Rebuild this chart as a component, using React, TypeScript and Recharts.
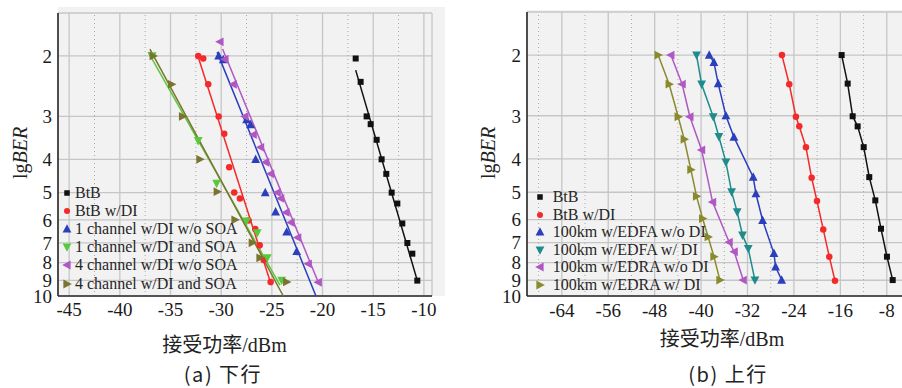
import React from 'react';
import { ScatterChart, Scatter, XAxis, YAxis, CartesianGrid, ReferenceLine } from 'recharts';

type Pt = { p: number; ber: number };
const mk = (arr: number[][]): Pt[] => arr.map(([p, ber]) => ({ p, ber }));

// ---------- shared ----------
const yTicks = [2, 3, 4, 5, 6, 7, 8, 9, 10];

// ---------- panel (a) 下行 ----------
const xTicksA = [-45, -40, -35, -30, -25, -20, -15, -10];
const xMinorA = [-42.5, -37.5, -32.5, -27.5, -22.5, -17.5, -12.5];

const btbA = [[-16.73, 2.035], [-16.24, 2.38], [-15.65, 3.0], [-15.25, 3.16], [-14.66, 3.51], [-14.17, 4.0], [-13.71, 4.41], [-13.18, 5.0], [-12.62, 5.38], [-12.13, 6.15], [-11.63, 7.01], [-11.14, 7.53], [-10.65, 9.02]];
const btbFitA = [[-16.73, 2.2], [-10.65, 9.02]];
const btbDiA = [[-32.27, 2.0], [-31.77, 2.035], [-31.28, 2.42], [-30.25, 3.0], [-29.7, 3.37], [-29.21, 4.22], [-28.71, 5.0], [-28.15, 5.2], [-27.3, 6.03], [-26.64, 6.38], [-26.2, 7.12], [-25.8, 7.85], [-25.12, 9.1]];
const btbDiFitA = [[-32.3, 2.0], [-25.05, 9.3]];
const ch1NoSoa = [[-30.25, 2.0], [-29.8, 2.05], [-27.49, 3.065], [-27.1, 3.17], [-26.6, 4.0], [-25.65, 5.0], [-24.63, 5.69], [-23.54, 6.51], [-22.55, 7.42]];
const ch1NoSoaFit = [[-30.4, 1.95], [-20.65, 10]];
const ch1Soa = [[-36.8, 2.0], [-32.27, 3.53], [-30.45, 4.7], [-27.49, 6.05], [-26.44, 6.55], [-25.45, 7.74], [-24.03, 9.0]];
const ch1SoaFit = [[-37.2, 1.95], [-24.2, 9.3]];
const ch4NoSoa = [[-30.12, 1.82], [-29.63, 2.045], [-28.81, 2.42], [-27.66, 3.0], [-26.84, 3.39], [-26.11, 3.69], [-25.61, 4.08], [-25.12, 4.41], [-24.47, 5.0], [-24.13, 5.2], [-23.61, 5.71], [-23.11, 6.11], [-22.45, 6.76], [-21.41, 8.06], [-20.42, 9.12]];
const ch4NoSoaFit = [[-29.86, 1.91], [-20.42, 9.12]];
const ch4Soa = [[-36.71, 2.0], [-34.89, 2.42], [-33.81, 3.0], [-32.1, 4.0], [-30.39, 4.97], [-28.64, 6.0], [-26.93, 7.0], [-26.17, 7.74], [-23.54, 9.1]];
const ch4SoaFit = [[-37.03, 1.91], [-23.87, 10]];

// ---------- panel (b) 上行 ----------
const xTicksB = [-64, -56, -48, -40, -32, -24, -16, -8];
const xMinorB = [-68, -60, -52, -44, -36, -28, -20, -12];

const btbB = [[-15.78, 2.0], [-14.74, 2.42], [-13.88, 3.01], [-13.02, 3.22], [-11.98, 3.7], [-11.02, 4.52], [-9.98, 5.28], [-9.0, 6.38], [-7.97, 7.69], [-6.98, 8.99]];
const btbDiB = [[-26.07, 2.0], [-24.81, 2.43], [-23.66, 3.02], [-23.08, 3.22], [-21.93, 3.7], [-20.95, 4.54], [-20.03, 5.3], [-18.95, 6.41], [-17.91, 7.69], [-16.93, 9.03]];
const edfaNoDi = [[-38.6, 2.0], [-37.79, 2.1], [-37.05, 2.42], [-35.72, 3.0], [-34.34, 3.46], [-31.02, 4.52], [-30.55, 5.05], [-29.4, 6.03], [-27.45, 7.52], [-27.16, 8.23], [-26.12, 8.99]];
const edfaDi = [[-40.78, 2.0], [-39.91, 2.43], [-37.91, 3.02], [-36.93, 3.45], [-35.72, 4.09], [-34.74, 4.99], [-33.78, 5.7], [-32.86, 6.66], [-31.88, 7.28], [-30.72, 8.99]];
const edraNoDi = [[-45.21, 2.0], [-43.26, 2.43], [-41.93, 3.02], [-39.91, 3.77], [-38.02, 5.34], [-35.16, 6.98], [-34.29, 7.44], [-32.74, 8.99]];
const edraDi = [[-47.4, 2.0], [-45.5, 2.43], [-43.95, 3.02], [-42.91, 3.51], [-41.76, 4.3], [-40.78, 5.14], [-39.74, 5.96], [-38.78, 6.74], [-37.79, 7.69], [-36.76, 8.99]];

type Kind = 'square' | 'circle' | 'up' | 'down' | 'left' | 'right';
type Series = { name: string; data: Pt[]; fit?: Pt[]; color: string; kind: Kind; size: number; connect?: boolean };

const BLACK = '#111111';
const RED = '#f42a2a';
const BLUE = '#2b3fbd';
const GREEN = '#5ac83c';
const PURPLE = '#b057c4';
const OLIVE_A = '#7b7430';
const OLIVE_B = '#8a8a2c';
const TEAL = '#1f8c8c';

const seriesA: Series[] = [
  { name: 'BtB', data: mk(btbA), fit: mk(btbFitA), color: BLACK, kind: 'square', size: 6 },
  { name: 'BtB w/DI', data: mk(btbDiA), fit: mk(btbDiFitA), color: RED, kind: 'circle', size: 6.5 },
  { name: '1 channel w/DI w/o SOA', data: mk(ch1NoSoa), fit: mk(ch1NoSoaFit), color: BLUE, kind: 'up', size: 8 },
  { name: '1 channel w/DI and SOA', data: mk(ch1Soa), fit: mk(ch1SoaFit), color: GREEN, kind: 'down', size: 8 },
  { name: '4 channel w/DI w/o SOA', data: mk(ch4NoSoa), fit: mk(ch4NoSoaFit), color: PURPLE, kind: 'left', size: 8 },
  { name: '4 channel w/DI and SOA', data: mk(ch4Soa), fit: mk(ch4SoaFit), color: OLIVE_A, kind: 'right', size: 8 },
];

const seriesB: Series[] = [
  { name: 'BtB', data: mk(btbB), color: BLACK, kind: 'square', size: 6, connect: true },
  { name: 'BtB w/DI', data: mk(btbDiB), color: RED, kind: 'circle', size: 6.5, connect: true },
  { name: '100km w/EDFA w/o DI', data: mk(edfaNoDi), color: BLUE, kind: 'up', size: 8, connect: true },
  { name: '100km w/EDFA w/ DI', data: mk(edfaDi), color: TEAL, kind: 'down', size: 8, connect: true },
  { name: '100km w/EDRA w/o DI', data: mk(edraNoDi), color: PURPLE, kind: 'left', size: 8, connect: true },
  { name: '100km w/EDRA w/ DI', data: mk(edraDi), color: OLIVE_B, kind: 'right', size: 8, connect: true },
];

const SERIF = '"Liberation Serif", "DejaVu Serif", serif';
const SERIF_CJK = '"Liberation Serif", "DejaVu Serif", "Noto Sans CJK SC", serif';
const SANS = '"Noto Sans CJK SC", "Noto Sans", sans-serif';

function Marker({ cx, cy, kind, color, size }: { cx: number; cy: number; kind: Kind; color: string; size: number }) {
  const s = size;
  if (cx == null || cy == null || isNaN(cx) || isNaN(cy)) return <g />;
  switch (kind) {
    case 'square':
      return <rect x={cx - s / 2} y={cy - s / 2} width={s} height={s} fill={color} />;
    case 'circle':
      return <circle cx={cx} cy={cy} r={s / 2} fill={color} />;
    case 'up':
      return <polygon points={`${cx},${cy - s * 0.6} ${cx - s * 0.55},${cy + s * 0.45} ${cx + s * 0.55},${cy + s * 0.45}`} fill={color} />;
    case 'down':
      return <polygon points={`${cx},${cy + s * 0.6} ${cx - s * 0.55},${cy - s * 0.45} ${cx + s * 0.55},${cy - s * 0.45}`} fill={color} />;
    case 'left':
      return <polygon points={`${cx - s * 0.6},${cy} ${cx + s * 0.45},${cy - s * 0.55} ${cx + s * 0.45},${cy + s * 0.55}`} fill={color} />;
    case 'right':
    default:
      return <polygon points={`${cx + s * 0.6},${cy} ${cx - s * 0.45},${cy - s * 0.55} ${cx - s * 0.45},${cy + s * 0.55}`} fill={color} />;
  }
}

const tickTextStyle: React.CSSProperties = { fontFamily: SERIF, fontSize: 19, fill: '#1a1a1a' };

function XTick(props: any) {
  const { x, y, payload } = props;
  return (
    <text x={x} y={y} dy="0.71em" textAnchor="middle" style={tickTextStyle}>
      {payload.value}
    </text>
  );
}

function YTick(props: any) {
  const { x, y, payload } = props;
  return (
    <text x={x} y={y} dy="0.355em" textAnchor="end" style={tickTextStyle}>
      {payload.value}
    </text>
  );
}

type PanelProps = {
  series: Series[];
  width: number;
  margin: { top: number; right: number; bottom: number; left: number };
  xDomain: [number, number];
  xTicks: number[];
  xMinor: number[];
  showRight: boolean;
  xTickMargin: number;
};

function Panel({ series, width, margin, xDomain, xTicks, xMinor, showRight, xTickMargin }: PanelProps) {
  const frame = { stroke: '#2a2a2a', strokeWidth: 1.6 };
  return (
    <ScatterChart width={width} height={388} margin={margin}>
      <CartesianGrid stroke="#c6c6c6" strokeWidth={1.3} />
      {xMinor.map((v) => (
        <ReferenceLine key={'m' + v} x={v} stroke="#a9a9a9" strokeWidth={1} strokeDasharray="1 3" />
      ))}
      <XAxis
        dataKey="p"
        type="number"
        domain={xDomain}
        ticks={xTicks}
        interval={0}
        allowDataOverflow
        height={30}
        tickSize={0}
        tickMargin={xTickMargin}
        axisLine={frame}
        tickLine={false}
        tick={<XTick />}
      />
      <XAxis
        xAxisId="top"
        orientation="top"
        dataKey="p"
        type="number"
        domain={xDomain}
        allowDataOverflow
        height={0}
        tick={false}
        tickLine={false}
        axisLine={frame}
      />
      <YAxis
        dataKey="ber"
        type="number"
        scale="log"
        domain={[1.5, 10]}
        reversed
        ticks={yTicks}
        interval={0}
        allowDataOverflow
        width={40}
        tickSize={0}
        tickMargin={6}
        axisLine={frame}
        tickLine={false}
        tick={<YTick />}
      />
      {showRight && (
        <YAxis yAxisId="r" orientation="right" type="number" domain={[0, 1]} width={0} tick={false} tickLine={false} axisLine={frame} />
      )}
      {series.map((s) =>
        s.fit ? (
          <Scatter
            key={s.name + '-fit'}
            data={s.fit}
            line={{ stroke: s.color, strokeWidth: 1.5 }}
            shape={() => <g />}
            isAnimationActive={false}
            legendType="none"
          />
        ) : null
      )}
      {series.map((s) => (
        <Scatter
          key={s.name}
          name={s.name}
          data={s.data}
          line={s.connect ? { stroke: s.color, strokeWidth: 1.5 } : false}
          shape={(props: any) => <Marker cx={props.cx} cy={props.cy} kind={s.kind} color={s.color} size={s.size} />}
          isAnimationActive={false}
        />
      ))}
    </ScatterChart>
  );
}

function LegendBox({ series, markerX, textX, firstY, rowH }: { series: Series[]; markerX: number; textX: number; firstY: number; rowH: number }) {
  return (
    <>
      {series.map((s, i) => {
        const cy = firstY + i * rowH;
        return (
          <div
            key={s.name}
            style={{ position: 'absolute', left: markerX - 6, top: cy - 10, height: 20, display: 'flex', alignItems: 'center', whiteSpace: 'nowrap' }}
          >
            <svg width={12} height={12} style={{ display: 'block' }}>
              <Marker cx={6} cy={6} kind={s.kind} color={s.color} size={s.kind === 'square' ? 5.5 : s.kind === 'circle' ? 6 : 8} />
            </svg>
            <span style={{ marginLeft: textX - markerX - 6, fontFamily: SERIF, fontSize: 16, color: '#262626', lineHeight: '20px' }}>{s.name}</span>
          </div>
        );
      })}
    </>
  );
}

function YLabel({ cx, cy }: { cx: number; cy: number }) {
  return (
    <div
      style={{
        position: 'absolute',
        left: cx - 50,
        top: cy - 12,
        width: 100,
        height: 24,
        lineHeight: '24px',
        textAlign: 'center',
        transform: 'rotate(-90deg)',
        fontFamily: SERIF,
        fontSize: 20,
        color: '#222',
      }}
    >
      lg<i>BER</i>
    </div>
  );
}

function TextAt({ cx, top, h, text, font, size, spacing }: { cx: number; top: number; h: number; text: string; font: string; size: number; spacing?: number }) {
  return (
    <div
      style={{
        position: 'absolute',
        left: cx - 150,
        top,
        width: 300,
        height: h,
        lineHeight: h + 'px',
        textAlign: 'center',
        fontFamily: font,
        fontSize: size,
        letterSpacing: spacing || 0,
        color: '#222',
        whiteSpace: 'nowrap',
      }}
    >
      {text}
    </div>
  );
}

export default function App() {
  return (
    <div style={{ position: 'absolute', left: 0, top: 0, width: 902, height: 388, overflow: 'hidden', background: '#ffffff' }}>
      {/* gray plot backgrounds */}
      <div style={{ position: 'absolute', left: 58, top: 7, width: 387, height: 289, background: '#f2f2f2' }} />
      <div style={{ position: 'absolute', left: 527, top: 10, width: 375, height: 286, background: '#f2f2f2' }} />

      <div style={{ position: 'absolute', left: 0, top: 0 }}>
        <Panel
          series={seriesA}
          width={450}
          margin={{ top: 13, right: 18, bottom: 62, left: 18 }}
          xDomain={[-46.1, -9.2]}
          xTicks={xTicksA}
          xMinor={xMinorA}
          showRight={true}
          xTickMargin={7}
        />
      </div>
      <div style={{ position: 'absolute', left: 451, top: 0 }}>
        <Panel
          series={seriesB}
          width={470}
          margin={{ top: 12, right: 11, bottom: 62, left: 36 }}
          xDomain={[-70, -4]}
          xTicks={xTicksB}
          xMinor={xMinorB}
          showRight={false}
          xTickMargin={8}
        />
      </div>

      <LegendBox series={seriesA} markerX={66.7} textX={75} firstY={193} rowH={18.1} />
      <LegendBox series={seriesB} markerX={540.3} textX={552.7} firstY={197} rowH={17.5} />

      <YLabel cx={20} cy={153} />
      <YLabel cx={488} cy={153} />

      <TextAt cx={224.5} top={333} h={24} text="接受功率/dBm" font={SERIF_CJK} size={20} />
      <TextAt cx={722} top={327} h={24} text="接受功率/dBm" font={SERIF_CJK} size={20} />

      <TextAt cx={223} top={361} h={26} text="(a) 下行" font={SANS} size={20} spacing={1.5} />
      <TextAt cx={728} top={361} h={26} text="(b) 上行" font={SANS} size={20} spacing={1.5} />
    </div>
  );
}
